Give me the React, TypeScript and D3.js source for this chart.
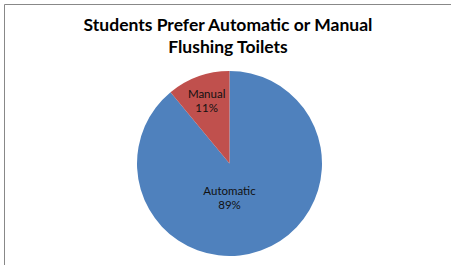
import React, { useEffect, useRef } from "react";
import * as d3 from "d3";

const categories = ["Automatic", "Manual"];
const shares = [89, 11];
const colors = ["#4F81BD", "#C0504D"];
const titleLines = ["Students Prefer Automatic or Manual", "Flushing Toilets"];

const W = 451;
const H = 265;

function drawChart(container: SVGSVGElement) {
  const svg = d3.select(container);
  svg.selectAll("*").remove();

  // chart frame (only top and left edges show in the crop)
  svg
    .append("path")
    .attr("d", `M4.5,${H} V4.5 H${W}`)
    .attr("fill", "none")
    .attr("stroke", "#888")
    .attr("stroke-width", 1);

  // title
  svg
    .append("g")
    .selectAll("text")
    .data(titleLines)
    .join("text")
    .attr("x", 228)
    .attr("y", (_, i) => 31 + i * 22)
    .attr("text-anchor", "middle")
    .style("font-family", "Lato, 'Open Sans', sans-serif")
    .style("font-weight", "bold")
    .style("font-size", "17.5px")
    .attr("fill", "#000")
    .text((d) => d);

  const cx = 229.5;
  const cy = 163.5;
  const radius = 92.5;

  const data = categories.map((c, i) => ({ name: c, value: shares[i], color: colors[i] }));

  const pie = d3
    .pie<any>()
    .sort(null)
    .value((d) => d.value);

  const arc = d3.arc<any>().innerRadius(0).outerRadius(radius);

  const g = svg.append("g").attr("transform", `translate(${cx},${cy})`);

  const arcs = pie(data);

  g.selectAll("path")
    .data(arcs)
    .join("path")
    .attr("d", arc)
    .attr("fill", (d) => d.data.color);

  // labels, Excel-like placement (big slice nearer the centre)
  const labelFrac = (d: any) => (d.data.value > 50 ? 0.38 : 0.73);
  const labelPos = (d: any) => {
    const r = radius * labelFrac(d);
    const a = (d.startAngle + d.endAngle) / 2;
    let x = Math.sin(a) * r;
    const y = -Math.cos(a) * r;
    if (d.data.value > 50) x = 0;
    return [x, y];
  };

  const labels = g
    .selectAll("g.label")
    .data(arcs)
    .join("g")
    .attr("class", "label")
    .attr("transform", (d) => `translate(${labelPos(d)})`);

  labels
    .append("text")
    .attr("text-anchor", "middle")
    .attr("y", -2)
    .style("font-family", "Lato, 'Open Sans', sans-serif")
    .style("font-size", "11.5px")
    .attr("fill", "#111")
    .text((d) => d.data.name);

  labels
    .append("text")
    .attr("text-anchor", "middle")
    .attr("y", 12)
    .style("font-family", "Lato, 'Open Sans', sans-serif")
    .style("font-size", "11.5px")
    .attr("fill", "#111")
    .text((d) => `${d.data.value}%`);
}

export default function App() {
  const ref = useRef<SVGSVGElement>(null);
  useEffect(() => {
    if (ref.current) drawChart(ref.current);
  }, []);
  return (
    <svg
      ref={ref}
      width={W}
      height={H}
      style={{ position: "absolute", left: 0, top: 0, background: "#fff" }}
    />
  );
}
